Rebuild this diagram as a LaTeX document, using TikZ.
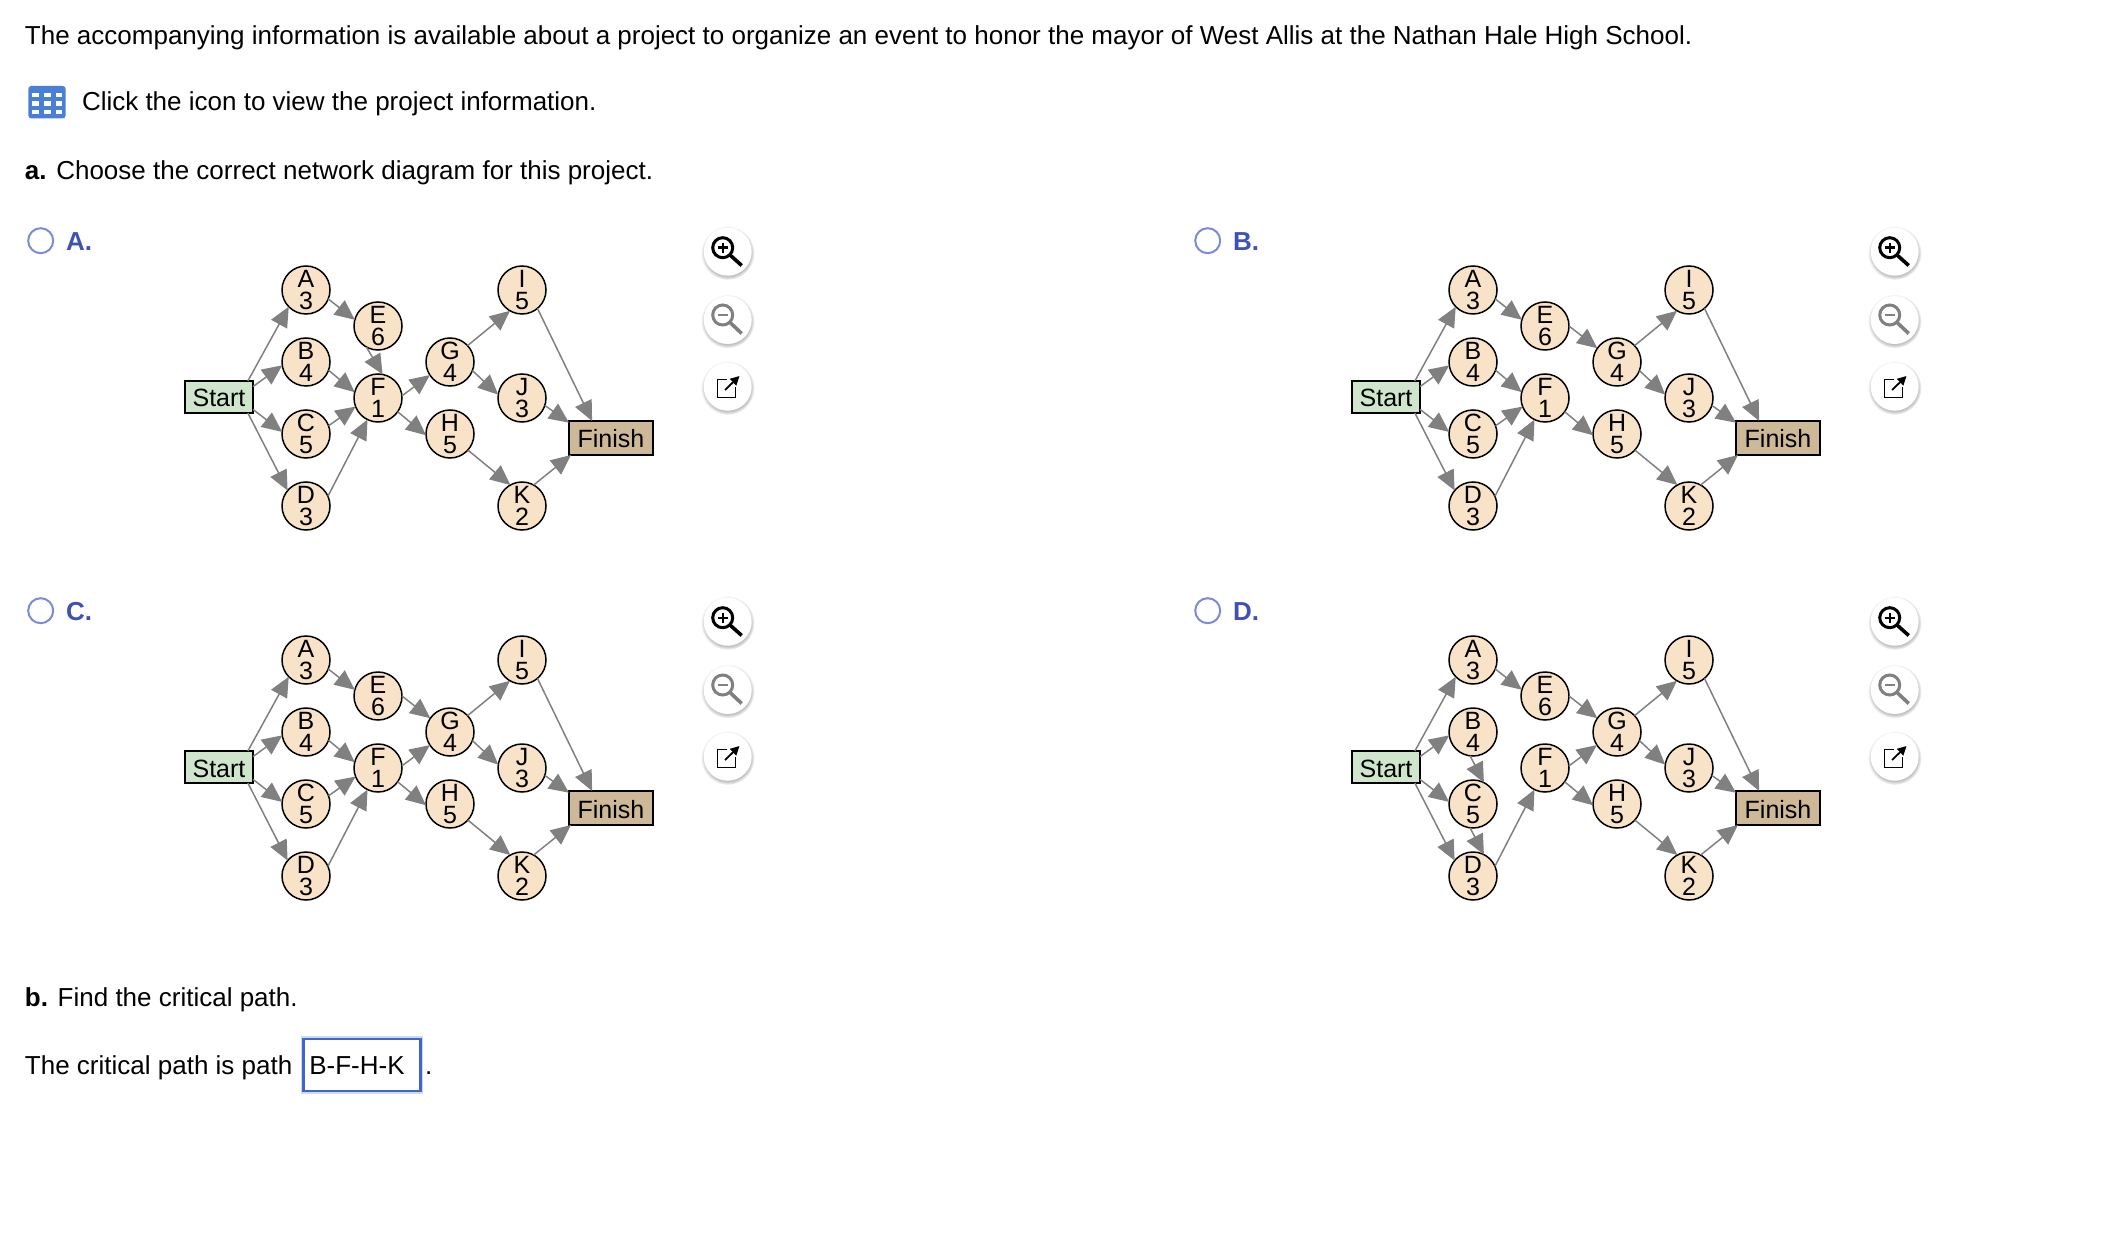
\documentclass[tikz,border=0pt]{standalone}
\usepackage{fontspec}
\setmainfont{Liberation Sans}
\usetikzlibrary{arrows.meta,positioning,shadows}

\definecolor{startgreen}{HTML}{CFE6CC}
\definecolor{finishtan}{HTML}{CDB898}
\definecolor{activitypeach}{HTML}{F8E2C8}
\definecolor{flowgray}{HTML}{808080}
\definecolor{choiceblue}{HTML}{3F51B5}
\definecolor{radioblue}{HTML}{7B8CD6}
\definecolor{gridblue}{HTML}{4A7FD6}
\definecolor{answerblue}{HTML}{3F66C8}

\tikzset{
 activity/.style={circle, draw=black, line width=0.75pt, fill=activitypeach, minimum size=24pt, inner sep=0pt, outer sep=0pt, align=center, font=\fontsize{12.5}{11}\selectfont},
 terminal/.style={rectangle, draw=black, line width=0.75pt, inner sep=0pt, outer sep=0pt, text height=10pt, text depth=0pt, font=\fontsize{12.5}{14}\selectfont},
 flow/.style={color=flowgray, line width=0.75pt, -{Triangle[length=10pt,width=9pt]}},
 textline/.style={anchor=base west, inner sep=0pt, outer sep=0pt, font=\fontsize{13}{16}\selectfont},
 radio/.style={circle, draw=radioblue, line width=1pt, minimum size=12.5pt, inner sep=0pt},
 roundbutton/.style={circle, fill=white, minimum size=24pt, inner sep=0pt, circular drop shadow={shadow xshift=0pt, shadow yshift=-0.6pt, shadow scale=1.12, opacity=0.5}},
}

% one answer choice: #1 letter, #2 x offset, #3 y offset, #4 the edges that differ
\newcommand{\netpanel}[4]{
 \begin{scope}[shift={(#2,#3)}, name prefix=#1-, node distance=12pt]
  \node[radio] (radio) at (40.7,240.7) {};
  \node[textline, text=choiceblue] (choice) at (66,250.5) {\textbf{#1.}};

  \node[terminal, fill=startgreen, minimum width=34pt, minimum height=16pt] (Start) at (219,397) {Start};
  \node[activity] (A) at (306,290) {A\\3};
  \node[activity, below=of A] (B) {B\\4};
  \node[activity, below=of B] (C) {C\\5};
  \node[activity, below=of C] (D) {D\\3};
  \node[activity, right=of A, yshift=-18pt] (E) {E\\6};
  \node[activity, below=of E] (F) {F\\1};
  \node[activity, right=of E, yshift=-18pt] (G) {G\\4};
  \node[activity, below=of G] (H) {H\\5};
  \node[activity, right=of G, yshift=36pt] (I) {I\\5};
  \node[activity, below=30pt of I] (J) {J\\3};
  \node[activity, below=30pt of J] (K) {K\\2};
  \node[terminal, fill=finishtan, minimum width=42pt, minimum height=17pt] (Finish) at (611,438) {Finish};

  \path[flow] (Start.29) edge (A.224)
              (Start.17) edge (B.188)
              (Start.-20) edge (C.175)
              (Start.-29) edge (D.140)
              (A.-22) edge (E.165)
              (D.24) edge (F.244)
              (F.-35) edge (H.183)
              (G.43) edge (I.240)
              (G.-21) edge (J.172)
              (H.-42) edge (K.119)
              (I.-50) edge (Finish.138)
              (J.-18) edge (Finish.160)
              (K.61) edge (Finish.203)
              #4;

  % buttons on the right of the choice
  \node[roundbutton] (zoomin) at (727.7,251.7) {};
  \node[roundbutton] (zoomout) at (727.7,320) {};
  \node[roundbutton] (popout) at (727.7,386.7) {};

  \draw[line width=1.5pt] (722.7,247.7) circle (5pt);
  \draw[line width=1.2pt] (717.7,247.7) -- (727.7,247.7) (722.7,242.7) -- (722.7,252.7);
  \draw[line width=1.8pt] (730,255) -- (741.7,265.5);

  \draw[flowgray, line width=1.5pt] (722.7,315) circle (5pt);
  \draw[flowgray, line width=1.2pt] (717.7,315) -- (727.7,315);
  \draw[flowgray, line width=1.8pt] (730,322.5) -- (741.7,333.5);

  \draw[line width=0.7pt] (727,379.3) -- (717.3,379.3) -- (717.3,397.3) -- (735.7,397.3) -- (735.7,387);
  \draw[line width=0.9pt, -{Triangle[length=4.5pt,width=4.5pt]}] (725,390) -- (739.5,376);
 \end{scope}
}

\begin{document}
\begin{tikzpicture}[x=0.5pt, y=-0.5pt]
 \useasboundingbox (0,0) rectangle (2112,1240);

 \node[textline] (intro) at (25,44.5) {The accompanying information is available about a project to organize an event to honor the mayor of West Allis at the Nathan Hale High School.};

 \node[rectangle, rounded corners=1.5pt, fill=gridblue, minimum width=18.7pt, minimum height=16.2pt, inner sep=0pt] (gridicon) at (47,102.2) {};
 \foreach \cellx in {32.3,44,55.5}
  \foreach \celly in {93,101.5,110}
   \fill[white] (\cellx,\celly) rectangle ++(6.8,4.5);

 \node[textline] (clickline) at (82,110.5) {Click the icon to view the project information.};
 \node[textline] (parta) at (25,179.8) {\textbf{a.} Choose the correct network diagram for this project.};

 \netpanel{A}{0}{0}{(E.241) edge (F.79) (B.-20) edge (F.166) (C.20) edge (F.201) (F.5) edge (G.213)}
 \netpanel{B}{1167}{0}{(E.0) edge (G.145) (B.-20) edge (F.166) (C.20) edge (F.201)}
 \netpanel{C}{0}{370}{(E.0) edge (G.145) (B.-20) edge (F.166) (C.20) edge (F.201) (F.5) edge (G.213)}
 \netpanel{D}{1167}{370}{(E.0) edge (G.145) (F.5) edge (G.213) (B.263) edge (C.63) (C.263) edge (D.63)}

 \node[textline] (partb) at (25,1006.5) {\textbf{b.} Find the critical path.};
 \node[textline] (pathline) at (25,1074.8) {The critical path is path};
 \draw[answerblue, opacity=0.25, line width=2.6pt] (303.3,1039) rectangle (420.7,1091);
 \node[rectangle, draw=answerblue, line width=1.4pt, fill=white, minimum width=58.7pt, minimum height=26pt, inner sep=0pt] (answerbox) at (362,1065) {};
 \node[textline] (answer) at (309.3,1074.8) {B-F-H-K};
 \node[textline] (stop) at (425,1074.8) {.};
\end{tikzpicture}
\end{document}
